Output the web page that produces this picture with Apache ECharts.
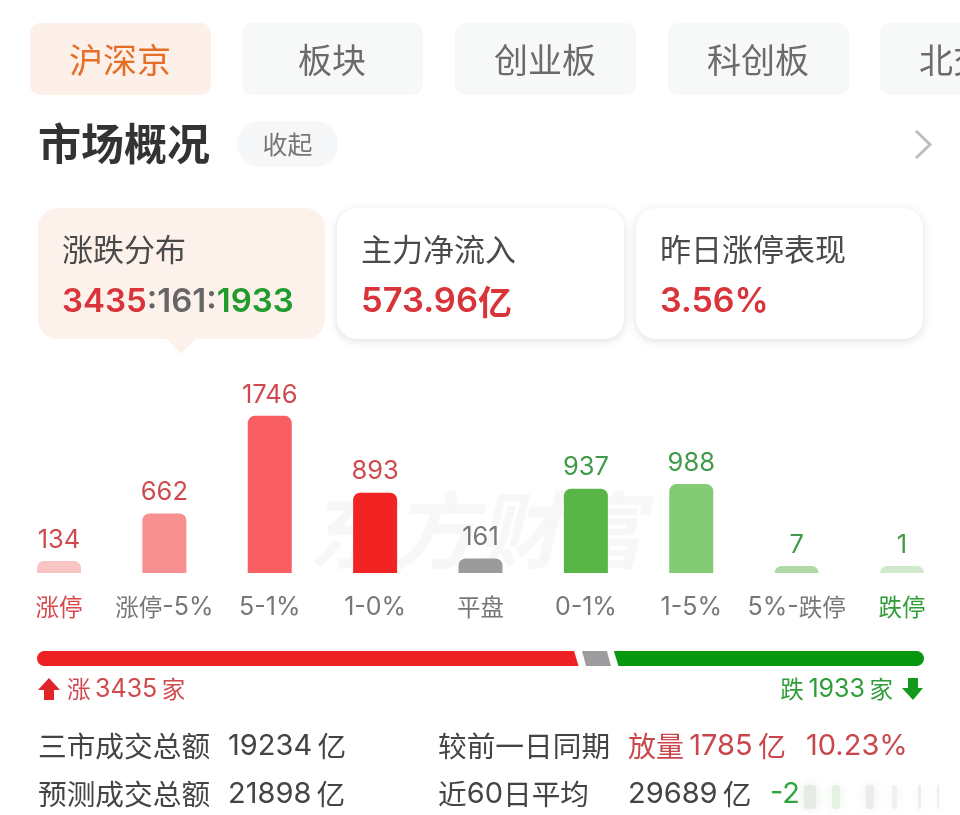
<!DOCTYPE html>
<html><head><meta charset="utf-8">
<style>html,body{margin:0;padding:0;background:#fff}#c{width:960px;height:815px}</style>
<script src="https://cdn.jsdelivr.net/npm/echarts@6/dist/echarts.min.js"></script>
</head><body><div id="c"></div>
<script>
const categories = ['涨停','涨停-5%','5-1%','1-0%','平盘','0-1%','1-5%','5%-跌停','跌停'];
const counts = [134,662,1746,893,161,937,988,7,1];
const barColors = ['#f8c4c4','#f78e90','#f95f62','#f12323','#9b9b9b','#58b646','#83cb74','#aed8a5','#cfe9ca'];
const labelColors = ['#cf4a4e','#cf4a4e','#cf4a4e','#cf4a4e','#777777','#3f9a4a','#3f9a4a','#3f9a4a','#3f9a4a'];
const axisColors = ['#d9474b','#777777','#777777','#777777','#777777','#777777','#777777','#777777','#2f9e35'];
const breadth = [3435,161,1933];
const breadthColors = ['#ee2225','#9c9c9e','#07980f'];
const tabs = ['沪深京','板块','创业板','科创板','北交所'];
const cards = ['涨跌分布','主力净流入','昨日涨停表现'];

const CJK = '"Noto Sans CJK SC","Liberation Sans",sans-serif';
const NUM = 'Inter,"Liberation Sans",sans-serif';
const RED = '#d8343a';
const T = (x,y,text,size,fill,extra) => ({type:'text',x,y,silent:true,z:5,style:Object.assign(
  {text,fontFamily:CJK,fontSize:size,fill,textVerticalAlign:'middle',textAlign:'left'},extra||{})});
const R = (x,y,w,h,r,fill,extra,z) => ({type:'rect',z:z||1,silent:true,shape:{x,y,width:w,height:h,r},style:Object.assign({fill},extra||{})});
const mixed = (x,y,text,cjkSize,numSize,fill,extra) => {
  const s = text.replace(/[^\u4e00-\u9fff]+/g,m=>'{n|'+m+'}').replace(/[\u4e00-\u9fff]+/g,m=>'{c|'+m+'}');
  return T(x,y,s,cjkSize,fill,Object.assign({rich:{
    n:{fill,fontFamily:NUM,fontSize:numSize,fontWeight:(extra&&extra.fontWeight)||'normal'},
    c:{fill,fontFamily:CJK,fontSize:cjkSize,fontWeight:(extra&&extra.fontWeight)||'normal'}}},extra||{}));
};

const g = [];
const tabX = [30,242,455,668,880];
tabs.forEach((t,i)=>{
  g.push(R(tabX[i],23,181,72,10,i===0?'#fdf0e9':'#f7f8f8'));
  g.push(T(tabX[i]+90,60,t,34,i===0?'#e66f28':'#6b6b6b',{textAlign:'center'}));
});
g.push(T(38,144,'市场概况',43,'#333333',{fontWeight:'bold'}));
g.push(R(237,121,101,46,23,'#f6f7f8'));
g.push(T(287.5,144,'收起',25,'#777777',{textAlign:'center'}));
g.push({type:'polyline',z:2,silent:true,shape:{points:[[916,131],[930,144.5],[916,158]]},style:{stroke:'#bdbdbd',lineWidth:3,fill:null}});
const cardX=[38,337,636];
cards.forEach((t,i)=>{
  g.push(R(cardX[i],208,287,131,20,i===0?'#fdf1ec':'#ffffff',
    i===0?{}:{shadowBlur:10,shadowColor:'rgba(0,0,0,0.13)',shadowOffsetY:2}));
  g.push(T(cardX[i]+24,249,t,31,'#4a4a4a'));
});
g.push({type:'polygon',z:1,silent:true,shape:{points:[[166,338],[196,338],[181,354]]},style:{fill:'#fdf1ec'}});
const bold={fontFamily:NUM,fontWeight:600};
g.push(T(62,302,'{a|'+breadth[0]+'}{b|:'+breadth[1]+':}{c|'+breadth[2]+'}',33,RED,{fontFamily:NUM,
  rich:{a:Object.assign({fill:RED,fontSize:33},bold),b:Object.assign({fill:'#666666',fontSize:33},bold),c:Object.assign({fill:'#1f9c2b',fontSize:33},bold)}}));
g.push(mixed(361,302,'573.96亿',34,34.5,RED,{fontWeight:600}));
g.push(T(660,302,'3.56%',34,RED,{fontFamily:NUM,fontWeight:600}));
g.push(T(476,530,'东方财富',84,'#f7f7f7',{textAlign:'center',fontWeight:'bold',fontStyle:'italic'}));
g[g.length-1].z=0;
g.push({type:'polygon',z:2,silent:true,shape:{points:[[49,678],[60,690],[54,690],[54,700],[44,700],[44,690],[38,690]]},style:{fill:'#e2252a'}});
g.push(mixed(67,689,'涨\u2009'+breadth[0]+'\u2009家',23.5,25,'#d0494d'));
g.push(mixed(893,689,'跌\u2009'+breadth[2]+'\u2009家',23.5,25,'#2f9e3a',{textAlign:'right'}));
g.push({type:'polygon',z:2,silent:true,shape:{points:[[908,678],[918,678],[918,688],[923,688],[913,700],[902,688],[908,688]]},style:{fill:'#139a1d'}});
const rowA=746,rowB=794,sz=28.7,nz=29,ink='#444444',rd='#c9474c';
g.push(T(38,rowA,'三市成交总额',sz,ink));
g.push(mixed(228,rowA,'19234\u2009亿',sz,nz,ink));
g.push(T(438,rowA,'较前一日同期',sz,ink));
g.push(mixed(628,rowA,'放量\u20091785\u2009亿',28,nz,rd));
g.push(T(806,rowA,'10.23%',nz,rd,{fontFamily:NUM}));
g.push(T(38,rowB,'预测成交总额',sz,ink));
g.push(mixed(228,rowB,'21898\u2009亿',sz,nz,ink));
g.push(mixed(438,rowB,'近60日平均',sz,nz,ink));
g.push(mixed(628,rowB,'29689\u2009亿',sz,nz,ink));
g.push(T(770,rowB,'-2',nz,'#2fa53a',{fontFamily:NUM}));
[[804,12,'#e6ebe4'],[832,8,'#e4f2e2'],[866,8,'#ececec'],[892,5,'#f0f0f0'],[918,3,'#ededed'],[937,2,'#ededed']].forEach(s=>{
  g.push(R(s[0],785,s[1],24,3,s[2],{shadowBlur:12,shadowColor:s[2]},6));
});

const chart = echarts.init(document.getElementById('c'),null,{renderer:'canvas'});
chart.setOption({
  animation:false,
  backgroundColor:'#ffffff',
  graphic:{elements:g},
  grid:[
    {left:6.3,width:948.4,top:393,height:180,containLabel:false},
    {left:37,width:887,top:651,height:15}
  ],
  xAxis:[
    {type:'category',gridIndex:0,data:categories,axisLine:{show:false},axisTick:{show:false},
     axisLabel:{interval:0,margin:20,fontSize:23.5,fontFamily:CJK,lineHeight:28,
       color:(v,i)=>axisColors[i],
       formatter:v=>v.replace(/[^\u4e00-\u9fff]+/g,m=>'{n|'+m+'}'),
       rich:{n:{fontFamily:NUM,fontSize:25}}}},
    {type:'value',gridIndex:1,min:0,max:breadth[0]+breadth[1]+breadth[2],show:false}
  ],
  yAxis:[
    {type:'value',gridIndex:0,min:0,max:2000,show:false},
    {type:'category',gridIndex:1,data:['b'],show:false}
  ],
  series:[
    {type:'bar',xAxisIndex:0,yAxisIndex:0,barWidth:44,barMinHeight:7,z:3,
     data:counts.map((v,i)=>({value:v,itemStyle:{color:barColors[i],borderRadius:[7,7,0,0]},
       label:{color:labelColors[i]}})),
     label:{show:true,position:'top',distance:8,fontSize:25.5,fontFamily:NUM}},
    {type:'custom',xAxisIndex:1,yAxisIndex:1,z:3,silent:true,data:[0,1,2],
     renderItem:(p,api)=>{
       const i=p.dataIndex;
       const x0=api.coord([0,0])[0], cy=api.coord([0,'b'])[1];
       const a=api.coord([breadth[0],0])[0], b=api.coord([breadth[0]+breadth[1],0])[0];
       const x1=api.coord([breadth[0]+breadth[1]+breadth[2],0])[0];
       const h=7.5, sl=4.5; let pts=[];
       const cap=(cx,from,to)=>{for(let k=0;k<=10;k++){const t=from+(to-from)*k/10;pts.push([cx+h*Math.cos(t),cy+h*Math.sin(t)]);}};
       if(i===0){cap(x0+h,Math.PI*1.5,Math.PI*0.5);pts.push([a-9.5,cy+h],[a-14,cy-h]);}
       if(i===1){pts=[[a-6,cy-h],[b-7,cy-h],[b-3,cy+h],[a-2,cy+h]];}
       if(i===2){pts=[[b,cy-h]];cap(x1-h,Math.PI*1.5,Math.PI*2.5);pts.push([b+sl,cy+h]);}
       return {type:'polygon',shape:{points:pts},style:{fill:breadthColors[i]}};
     }}
  ]
});
</script></body></html>
